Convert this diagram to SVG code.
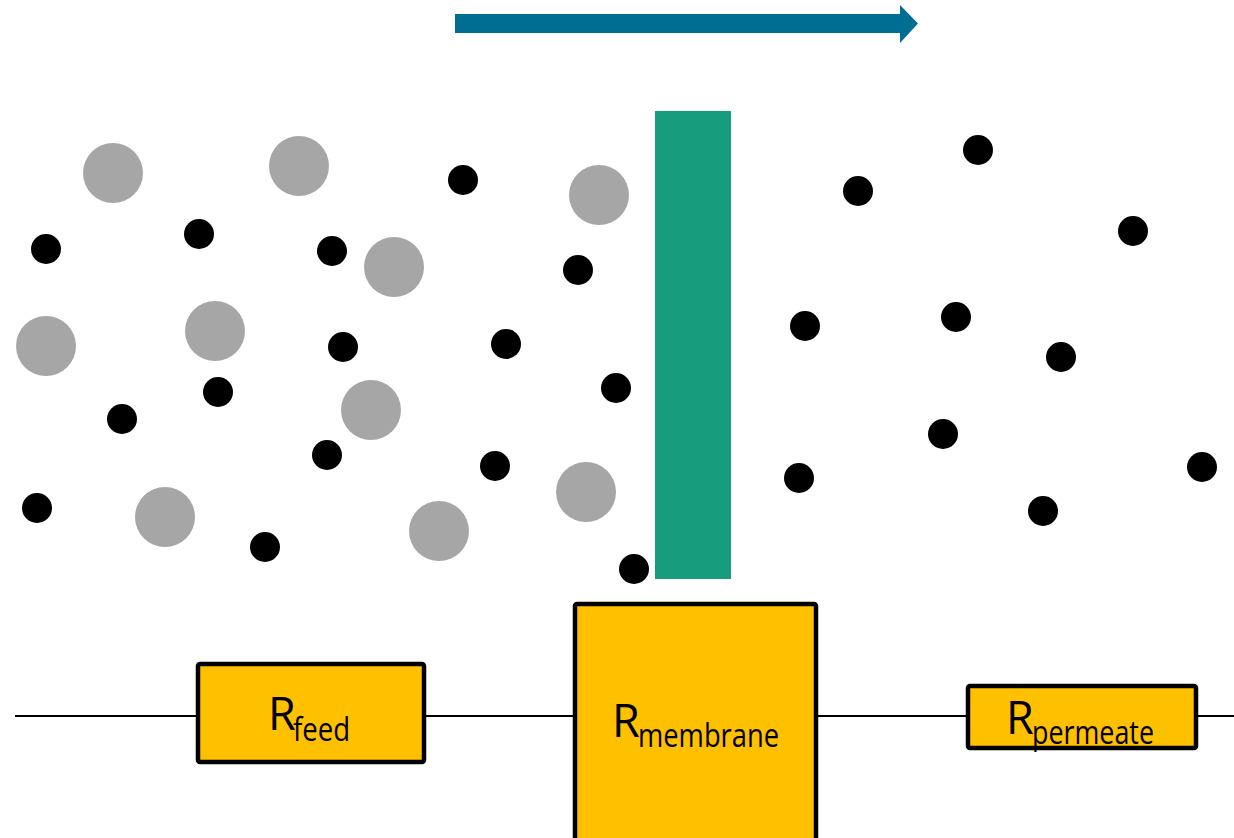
<svg xmlns="http://www.w3.org/2000/svg" width="1234" height="838" viewBox="0 0 1234 838">
  <style>
    .big { fill: #a6a6a6; }
    .small { fill: #000000; }
    .res { fill: #ffc000; stroke: #000000; stroke-width: 4.5; }
    .wire { stroke: #000000; stroke-width: 2; fill: none; }
    .lbl { font-family: "Open Sans", "Noto Sans", sans-serif; fill: #000000; }
    .main { font-size: 45px; }
    .sub { font-size: 32px; }
  </style>
  <rect width="1234" height="838" fill="#ffffff"/>

  <!-- flow direction -->
  <g id="flow-arrow">
    <polygon fill="#006e92" points="455,14 900,14 900,5 918,23.5 900,43 900,33 455,33"/>
  </g>

  <!-- membrane -->
  <g id="membrane">
    <rect x="655" y="111" width="76" height="468" fill="#179c7d"/>
  </g>

  <!-- retained (large) particles on the feed side -->
  <g id="large-particles">
    <circle class="big" cx="113" cy="173" r="30"/>
    <circle class="big" cx="299" cy="166" r="30"/>
    <circle class="big" cx="394" cy="267" r="30"/>
    <circle class="big" cx="46" cy="346" r="30"/>
    <circle class="big" cx="215" cy="331" r="30"/>
    <circle class="big" cx="371" cy="410" r="30"/>
    <circle class="big" cx="165" cy="517" r="30"/>
    <circle class="big" cx="599" cy="195" r="30"/>
    <circle class="big" cx="586" cy="492" r="30"/>
    <circle class="big" cx="439" cy="531" r="30"/>
  </g>

  <!-- permeating (small) particles -->
  <g id="small-particles">
    <circle class="small" cx="46" cy="249" r="15"/>
    <circle class="small" cx="199" cy="234" r="15"/>
    <circle class="small" cx="332" cy="251" r="15"/>
    <circle class="small" cx="343" cy="347" r="15"/>
    <circle class="small" cx="218" cy="392" r="15"/>
    <circle class="small" cx="122" cy="419" r="15"/>
    <circle class="small" cx="327" cy="455" r="15"/>
    <circle class="small" cx="37" cy="508" r="15"/>
    <circle class="small" cx="265" cy="547" r="15"/>
    <circle class="small" cx="463" cy="180" r="15"/>
    <circle class="small" cx="578" cy="270" r="15"/>
    <circle class="small" cx="506" cy="344" r="15"/>
    <circle class="small" cx="616" cy="388" r="15"/>
    <circle class="small" cx="495" cy="466" r="15"/>
    <circle class="small" cx="634" cy="569" r="15"/>
    <circle class="small" cx="978" cy="150" r="15"/>
    <circle class="small" cx="858" cy="191" r="15"/>
    <circle class="small" cx="1133" cy="231" r="15"/>
    <circle class="small" cx="805" cy="326" r="15"/>
    <circle class="small" cx="956" cy="317" r="15"/>
    <circle class="small" cx="1061" cy="357" r="15"/>
    <circle class="small" cx="943" cy="434" r="15"/>
    <circle class="small" cx="799" cy="478" r="15"/>
    <circle class="small" cx="1202" cy="467" r="15"/>
    <circle class="small" cx="1043" cy="511" r="15"/>
  </g>

  <!-- series wiring between the resistances -->
  <g id="connectors">
    <line class="wire" x1="15" y1="716" x2="197" y2="716"/>
    <line class="wire" x1="425" y1="716" x2="575" y2="716"/>
    <line class="wire" x1="816" y1="716" x2="968" y2="716"/>
    <line class="wire" x1="1196" y1="716" x2="1234" y2="716"/>
  </g>

  <g id="r-feed">
    <rect class="res" x="198" y="664" width="226" height="98" rx="2"/>
    <text class="lbl main" x="268" y="730">R</text>
    <text class="lbl sub" x="293" y="741" textLength="57" lengthAdjust="spacingAndGlyphs">feed</text>
  </g>

  <g id="r-membrane">
    <rect class="res" x="575" y="604" width="241" height="240" rx="2"/>
    <text class="lbl main" x="612" y="737">R</text>
    <text class="lbl sub" x="638" y="747" textLength="141" lengthAdjust="spacingAndGlyphs">membrane</text>
  </g>

  <g id="r-permeate">
    <rect class="res" x="968" y="686" width="228" height="62" rx="2"/>
    <text class="lbl main" x="1006" y="734">R</text>
    <text class="lbl sub" x="1032" y="744" textLength="122" lengthAdjust="spacingAndGlyphs">permeate</text>
  </g>
</svg>
